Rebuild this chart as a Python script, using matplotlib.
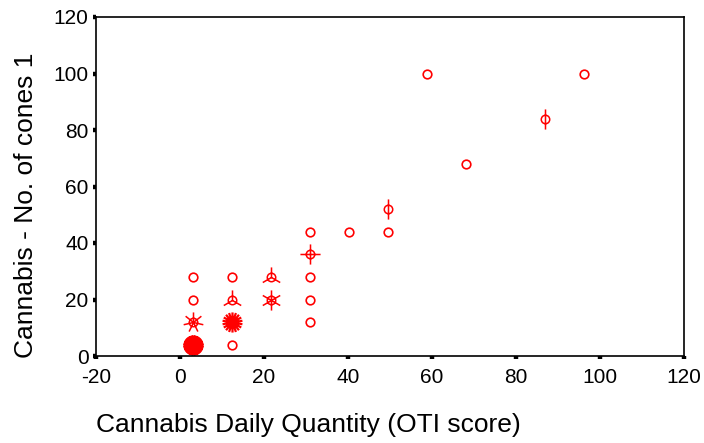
import numpy as np
import matplotlib
matplotlib.use("Agg")
import matplotlib.pyplot as plt
from matplotlib.path import Path
from matplotlib.markers import MarkerStyle

plt.rcParams['font.family'] = ['Liberation Sans', 'DejaVu Sans']

# Data: OTI daily quantity score vs number of cones; counts = cases at each point (sunflower petals)
oti_score = [3.1, 3.1, 3.1, 3.1, 12.4, 12.4, 12.4, 12.4, 21.7, 21.7,
             31.0, 31.0, 31.0, 31.0, 31.0, 40.3, 49.6, 49.6, 58.9, 68.2, 86.8, 96.1]
cones = [4, 12, 20, 28, 4, 12, 20, 28, 20, 28,
         12, 20, 28, 36, 44, 44, 44, 52, 100, 68, 84, 100]
counts = [40, 7, 1, 1, 1, 18, 3, 1, 6, 3,
          1, 1, 1, 4, 1, 1, 1, 2, 1, 1, 2, 1]

x_ticks = [-20, 0, 20, 40, 60, 80, 100, 120]
y_ticks = [0, 20, 40, 60, 80, 100, 120]

RED = '#ff0000'


def sunflower_marker(n, circ=0.42):
    circle = Path.circle((0, 0), circ)
    verts, codes = [], []
    for k in range(n):
        a = 2 * np.pi * k / n
        verts += [(0, 0), (np.sin(a), np.cos(a))]
        codes += [Path.MOVETO, Path.LINETO]
    petals = Path(verts, codes)
    return MarkerStyle(Path.make_compound_path(circle, petals))


fig = plt.figure(figsize=(7.04, 4.43), dpi=100)
ax = fig.add_axes([96 / 704, 1 - 356 / 443, (684 - 96) / 704, (356 - 17) / 443])

x_arr = np.array(oti_score)
y_arr = np.array(cones)
c_arr = np.array(counts)

for n in sorted(set(counts)):
    m = c_arr == n
    if n == 1:
        ax.plot(x_arr[m], y_arr[m], linestyle='none', marker='o', markersize=6.2,
                markerfacecolor='none', markeredgecolor=RED, markeredgewidth=1.2)
    else:
        lw = 1.1 if n < 10 else 1.6
        ax.plot(x_arr[m], y_arr[m], linestyle='none', marker=sunflower_marker(n),
                markersize=14.5, markerfacecolor='none', markeredgecolor=RED,
                markeredgewidth=lw)

ax.set_xlim(-20, 120)
ax.set_ylim(0, 120)
ax.set_xticks(x_ticks)
ax.set_yticks(y_ticks)
ax.set_xticklabels([str(t) for t in x_ticks])
ax.set_yticklabels([str(t) for t in y_ticks])
ax.tick_params(direction='out', length=2.3, width=3.2, color='black',
               labelsize=15, colors='black')
ax.tick_params(axis='x', pad=6)
ax.tick_params(axis='y', pad=3)
for s in ax.spines.values():
    s.set_linewidth(1.2)
    s.set_color('black')

fig.text(96 / 704, 1 - 425 / 443, 'Cannabis Daily Quantity (OTI score)',
         ha='left', va='center', fontsize=19)
fig.text(26 / 704, 1 - 358 / 443, 'Cannabis - No. of cones 1', rotation=90,
         ha='center', va='bottom', fontsize=19)

fig.savefig('out.png', dpi=100, facecolor='white')
